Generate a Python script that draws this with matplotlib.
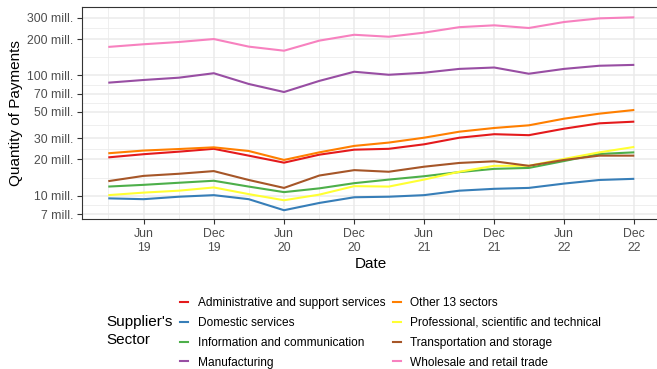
import numpy as np
import pandas as pd
import matplotlib
matplotlib.use("Agg")
import matplotlib.pyplot as plt
from matplotlib.lines import Line2D

plt.rcParams['font.family'] = ['Liberation Sans', 'DejaVu Sans']

# quarterly payment counts, millions
dates = pd.date_range("2019-03-01", "2022-12-01", freq="3MS")

admin = [20.8, 22.1, 23.2, 24.5, 21.5, 18.8, 21.9, 24.1, 24.5, 26.7, 30.3, 32.4, 31.8, 36.0, 39.9, 41.2]
domestic = [9.5, 9.35, 9.8, 10.1, 9.35, 7.57, 8.7, 9.7, 9.8, 10.1, 11.0, 11.4, 11.6, 12.6, 13.5, 13.8]
info_comm = [11.9, 12.3, 12.8, 13.3, 11.9, 10.7, 11.5, 12.7, 13.6, 14.5, 15.7, 16.7, 17.0, 19.4, 22.2, 22.9]
manufacturing = [86.8, 91.4, 95.5, 104, 84.7, 72.6, 89.8, 107, 101, 105, 113, 116, 103, 113, 120, 122]
other13 = [22.5, 23.7, 24.4, 25.2, 23.5, 19.8, 22.9, 25.9, 27.6, 30.3, 34.0, 36.5, 38.4, 43.6, 48.0, 51.5]
professional = [10.1, 10.6, 11.0, 11.7, 10.3, 9.16, 10.2, 12.0, 11.9, 13.6, 15.8, 17.7, 17.7, 20.2, 22.9, 25.4]
transport = [13.2, 14.6, 15.2, 16.0, 13.5, 11.6, 14.7, 16.3, 15.8, 17.4, 18.7, 19.3, 17.7, 19.8, 21.5, 21.5]
wholesale = [172, 181, 189, 200, 173, 160, 194, 217, 209, 226, 251, 260, 247, 277, 297, 303]

sectors = ["Administrative and support services", "Domestic services",
           "Information and communication", "Manufacturing", "Other 13 sectors",
           "Professional, scientific and technical", "Transportation and storage",
           "Wholesale and retail trade"]
series = [admin, domestic, info_comm, manufacturing, other13, professional, transport, wholesale]
colors = ["#E41A1C", "#377EB8", "#4DAF4A", "#984EA3", "#FF7F00", "#FFFF33", "#A65628", "#F781BF"]

y_breaks = [7, 10, 20, 30, 50, 70, 100, 200, 300]
x_breaks = pd.to_datetime(["2019-06-01", "2019-12-01", "2020-06-01", "2020-12-01",
                           "2021-06-01", "2021-12-01", "2022-06-01", "2022-12-01"])
x_minor = pd.to_datetime(["2019-03-01", "2019-09-01", "2020-03-01", "2020-09-01",
                          "2021-03-01", "2021-09-01", "2022-03-01", "2022-09-01"])

fig = plt.figure(figsize=(6.57, 3.69), dpi=100)
ax = fig.add_axes([82 / 657, 1 - 219 / 369, (660.6 - 82) / 657, (219 - 7.3) / 369])

for vals, name, c in zip(series, sectors, colors):
    ax.plot(dates, vals, color=c, lw=1.5, label=name, solid_capstyle="butt", zorder=3)

ax.set_yscale("log")
ax.set_ylim(6.40, 367)
pad = pd.Timedelta(days=68.5)
ax.set_xlim(dates[0] - pad, dates[-1] + pad)

# major and minor grid in log space
ax.set_yticks(y_breaks)
ax.set_yticklabels([f"{b} mill." for b in y_breaks])
ax.yaxis.set_minor_locator(matplotlib.ticker.NullLocator())
for lo, hi in zip(y_breaks[:-1], y_breaks[1:]):
    ax.axhline(np.sqrt(lo * hi), color="#EBEBEB", lw=0.55, zorder=1)
for b in y_breaks:
    ax.axhline(b, color="#EBEBEB", lw=1.1, zorder=1)
for d in x_minor:
    ax.axvline(d, color="#EBEBEB", lw=0.55, zorder=1)
for d in x_breaks:
    ax.axvline(d, color="#EBEBEB", lw=1.1, zorder=1)

ax.set_xticks(x_breaks)
ax.set_xticklabels([d.strftime("%b\n%y") for d in x_breaks], linespacing=1.2)

ax.tick_params(axis="both", length=3.8, width=0.8, color="#333333",
               labelcolor="#4D4D4D", labelsize=8.8, pad=2.5)
for s in ax.spines.values():
    s.set_color("#333333")
    s.set_linewidth(0.8)

ax.set_ylabel("Quantity of Payments", fontsize=11)
ax.yaxis.set_label_coords((23 - 82) / 578.6, 0.5)
ax.set_xlabel("Date", fontsize=11)
ax.xaxis.set_label_coords(0.5, (219 - 257) / 211.7)
ax.xaxis.label.set_va("top")

handles = [Line2D([], [], color=c, lw=1.5) for c in colors]
fig.legend(handles, sectors, ncol=2, loc="upper left",
           bbox_to_anchor=(180 / 657, 1 - 297 / 369), frameon=False,
           fontsize=8.6, handlelength=0.7, handletextpad=0.8,
           columnspacing=0.6, labelspacing=0.66, borderpad=0, borderaxespad=0)
fig.text(106 / 657, 1 - 331 / 369, "Supplier's\nSector", fontsize=11,
         va="center", ha="left", linespacing=1.3)

fig.savefig("out.png", dpi=100)
